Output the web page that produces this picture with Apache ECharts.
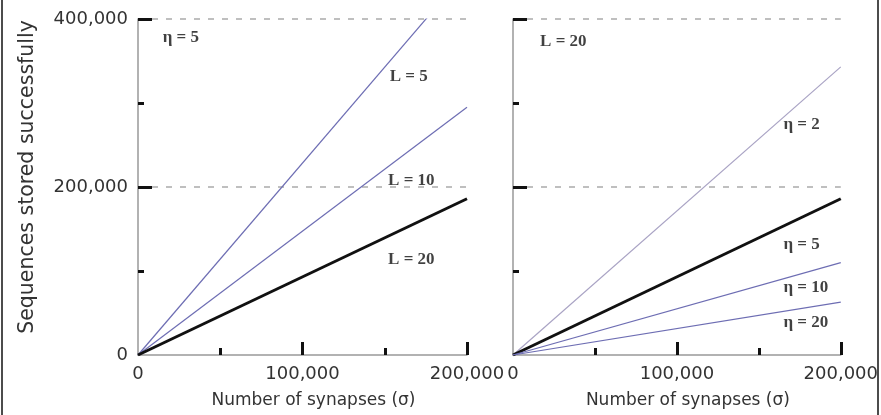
<!DOCTYPE html>
<html><head><meta charset="utf-8">
<script src="https://cdn.jsdelivr.net/npm/echarts@6/dist/echarts.min.js"></script>
<style>html,body{margin:0;padding:0;background:#fff}#c{width:881px;height:415px}</style>
</head><body><div id="c"></div>
<script>
// x values (number of synapses)
const sigma = [0, 200000];
// Left panel (eta = 5), sequences stored for different L
const L5 = [0, 457000];   // clipped at 400,000 (reaches it near 175,000)
const L10 = [0, 295000];
const L20 = [0, 186000];
// Right panel (L = 20), different eta
const eta2 = [0, 343000];
const eta5 = [0, 186000];
const eta10 = [0, 110000];
const eta20 = [0, 63000];
// axis ticks
const yTicksMax = 400000;
const xTicksMax = 200000;
const xMajorTicks = [100000, 200000];
const xMinorTicks = [50000, 150000];
const yMajorTicks = [200000, 400000];
const yMinorTicks = [100000, 300000];
// annotation texts and their anchor points (data units)
const leftNotes = [
  {text: 'η = 5', at: [15000, 378000]},
  {text: 'L = 5', at: [153000, 331000]},
  {text: 'L = 10', at: [152000, 208000]},
  {text: 'L = 20', at: [152000, 113000]}
];
const rightNotes = [
  {text: 'L = 20', at: [16500, 373000]},
  {text: 'η = 2', at: [165000, 274000]},
  {text: 'η = 5', at: [165000, 131000]},
  {text: 'η = 10', at: [165000, 80000]},
  {text: 'η = 20', at: [165000, 39000]}
];

const pairs = (ys) => sigma.map((x, i) => [x, ys[i]]);
const fmt = v => v.toLocaleString('en-US');
const sans = 'DejaVu Sans';

function xAxis(gi, ticks, len, show) {
  return {
    type: 'value', gridIndex: gi, position: 'bottom', min: 0, max: xTicksMax, interval: 100000,
    name: show ? 'Number of synapses (σ)' : '', nameLocation: 'middle', nameGap: 37,
    nameTextStyle: {fontFamily: sans, fontSize: 17, color: '#333', padding: [0, 0, 0, 22]},
    axisLine: {show: show, lineStyle: {color: '#999', width: 1.5}},
    axisTick: {inside: true, length: len, customValues: ticks, lineStyle: {color: '#111', width: 3}},
    axisLabel: {show: show, formatter: fmt, fontFamily: sans, fontSize: 18, color: '#333', margin: 10},
    splitLine: {show: false}
  };
}
function yAxis(gi, ticks, len, showLabels, main) {
  const a = {
    type: 'value', gridIndex: gi, position: 'left', offset: 0, min: 0, max: yTicksMax, interval: 200000,
    axisLine: {show: main, lineStyle: {color: '#999', width: 1.5}},
    axisTick: {show: true, inside: true, length: len, customValues: ticks, lineStyle: {color: '#111', width: 3}},
    axisLabel: {show: showLabels, formatter: fmt, fontFamily: sans, fontSize: 18, color: '#333', margin: 10},
    splitLine: {show: main, lineStyle: {color: '#aaa', width: 1.5, type: [6, 8]}}
  };
  if (showLabels) {
    a.name = 'Sequences stored successfully';
    a.nameLocation = 'middle';
    a.nameGap = 100;
    a.nameTextStyle = {fontFamily: sans, fontSize: 20.5, color: '#333', padding: [0, 0, 0, 20]};
  }
  return a;
}
function line(gi, ys, color, width) {
  return {
    type: 'line', xAxisIndex: gi, yAxisIndex: gi, data: pairs(ys), clip: true,
    showSymbol: false, symbol: 'none', silent: true, animation: false,
    lineStyle: {color: color, width: width}
  };
}
function notes(gi, arr) {
  return {
    type: 'scatter', xAxisIndex: gi, yAxisIndex: gi, symbolSize: 0, silent: true, animation: false,
    data: arr.map(n => ({value: n.at, name: n.text})),
    label: {show: true, position: 'right', distance: 0, formatter: p => p.name,
      fontFamily: 'Liberation Serif', fontWeight: 'bold', fontSize: 17, color: '#111'}
  };
}

const chart = echarts.init(document.getElementById('c'), null, {renderer: 'canvas'});
chart.setOption({
  backgroundColor: '#fff',
  animation: false,
  grid: [
    {left: 138, top: 19, width: 329, height: 336},
    {left: 513, top: 19, width: 328, height: 336}
  ],
  xAxis: [
    xAxis(0, xMajorTicks, 13, true), xAxis(1, xMajorTicks, 13, true),
    xAxis(0, xMinorTicks, 7, false), xAxis(1, xMinorTicks, 7, false)
  ],
  yAxis: [
    yAxis(0, yMajorTicks, 14, true, true), yAxis(1, yMajorTicks, 14, false, true),
    yAxis(0, yMinorTicks, 6, false, false), yAxis(1, yMinorTicks, 6, false, false)
  ],
  series: [
    line(0, L5, '#6d6db3', 1.2),
    line(0, L10, '#6d6db3', 1.2),
    line(0, L20, '#111', 3),
    line(1, eta2, '#a9a3c4', 1.2),
    line(1, eta5, '#111', 3),
    line(1, eta10, '#6d6db3', 1.2),
    line(1, eta20, '#6d6db3', 1.2),
    notes(0, leftNotes),
    notes(1, rightNotes)
  ],
  graphic: [
    {type: 'line', shape: {x1: 2, y1: 0, x2: 2, y2: 415}, style: {stroke: '#111', lineWidth: 1.5}, silent: true},
    {type: 'line', shape: {x1: 878, y1: 0, x2: 878, y2: 415}, style: {stroke: '#111', lineWidth: 1.5}, silent: true}
  ]
});
</script></body></html>
